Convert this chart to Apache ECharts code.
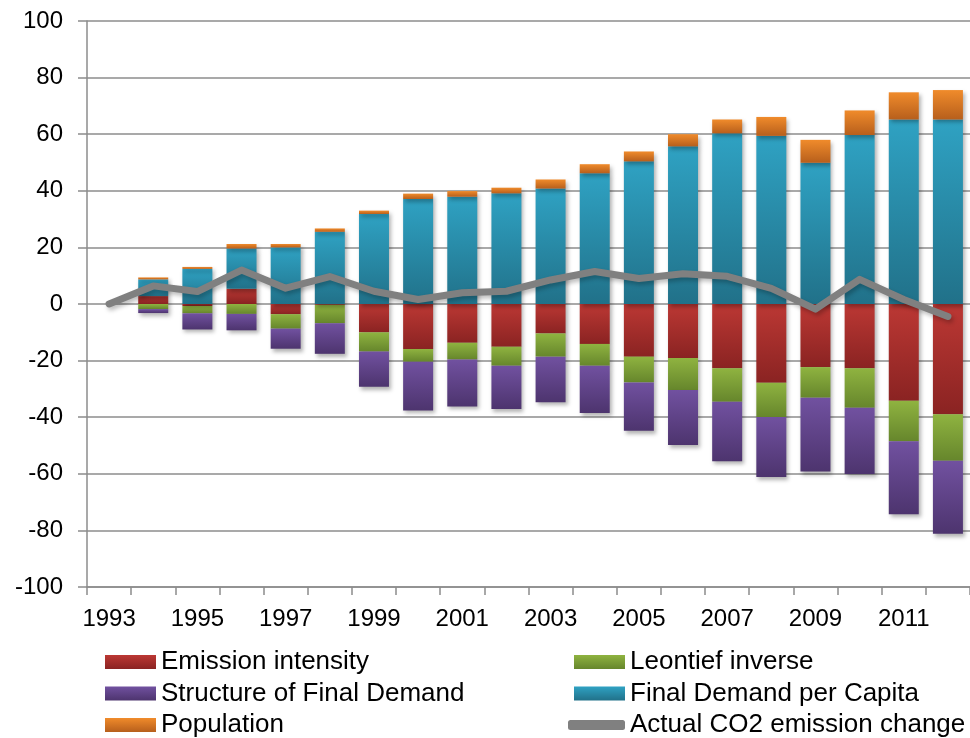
<!DOCTYPE html>
<html>
<head>
<meta charset="utf-8">
<script src="https://cdn.jsdelivr.net/npm/echarts@6/dist/echarts.min.js"></script>
<style>
html,body{margin:0;padding:0;background:#fff;}
#c{width:970px;height:738px;}
</style>
</head>
<body>
<div id="c"></div>
<script>
const years = ['1993','1994','1995','1996','1997','1998','1999','2000','2001','2002','2003','2004','2005','2006','2007','2008','2009','2010','2011','2012'];
const emissionIntensity = [null, 2.8, -0.7, 5.4, -3.6, -0.3, -10.0, -15.9, -13.7, -15.1, -10.4, -14.1, -18.6, -19.1, -22.7, -27.8, -22.3, -22.7, -34.2, -39.0];
const leontiefInverse = [null, -1.8, -2.6, -3.5, -5.1, -6.5, -6.8, -4.5, -5.9, -6.7, -8.2, -7.7, -9.1, -11.3, -11.8, -12.1, -10.8, -14.0, -14.3, -16.4];
const structureFinalDemand = [null, -1.4, -5.7, -5.8, -7.1, -10.8, -12.4, -17.2, -16.6, -15.3, -16.1, -16.7, -17.1, -19.4, -21.1, -21.2, -26.1, -23.4, -25.8, -25.8];
const finalDemandPerCapita = [null, 5.9, 12.4, 14.2, 20.0, 25.5, 31.8, 37.1, 37.9, 39.1, 40.8, 46.2, 50.4, 55.7, 60.3, 59.4, 49.9, 59.7, 65.2, 65.2];
const population = [null, 0.7, 0.7, 1.6, 1.2, 1.2, 1.2, 1.9, 2.0, 2.0, 3.2, 3.2, 3.5, 4.3, 4.9, 6.7, 8.1, 8.7, 9.6, 10.4];
const actualCO2Change = [0, 6.4, 4.4, 12.0, 5.6, 9.7, 4.5, 1.6, 4.0, 4.5, 8.5, 11.5, 9.0, 10.7, 9.8, 5.5, -1.8, 8.7, 1.6, -4.4];
const yTicks = {min: -100, max: 100, step: 20};

const FONT = "'Liberation Sans', Arial, sans-serif";
function grad(top, bottom) {
  return new echarts.graphic.LinearGradient(0, 0, 0, 1, [
    {offset: 0, color: top}, {offset: 1, color: bottom}
  ]);
}
const shadow = {shadowColor: 'rgba(0,0,0,0.30)', shadowBlur: 4, shadowOffsetX: 2, shadowOffsetY: 3};
function barSeries(name, data, top, bottom) {
  return {
    name: name, type: 'bar', stack: 'total', data: data,
    barWidth: 30,
    itemStyle: Object.assign({color: grad(top, bottom)}, shadow),
    emphasis: {disabled: true}
  };
}
const legendText = {color: '#000', fontFamily: FONT, fontSize: 26};

const chart = echarts.init(document.getElementById('c'), null, {renderer: 'canvas'});
chart.setOption({
  animation: false,
  backgroundColor: '#ffffff',
  grid: {left: 87, top: 21, width: 892, height: 566, containLabel: false},
  xAxis: {
    type: 'category', data: years, position: 'bottom',
    boundaryGap: true,
    axisLine: {onZero: false, lineStyle: {color: '#8c8c8c', width: 1.5}},
    axisTick: {show: true, interval: 0, alignWithLabel: false, length: 8, lineStyle: {color: '#8c8c8c', width: 1.5}},
    axisLabel: {interval: 1, color: '#000', fontFamily: FONT, fontSize: 24, margin: 20},
    splitLine: {show: false}
  },
  yAxis: {
    type: 'value', min: yTicks.min, max: yTicks.max, interval: yTicks.step,
    axisLine: {show: true, lineStyle: {color: '#8c8c8c', width: 1.5}},
    axisTick: {show: true, length: 9, lineStyle: {color: '#8c8c8c', width: 1.5}},
    axisLabel: {color: '#000', fontFamily: FONT, fontSize: 24, margin: 24},
    splitLine: {show: true, lineStyle: {color: '#8c8c8c', width: 1.5}}
  },
  legend: [
    {
      data: [{name: 'Emission intensity', icon: 'rect'}, {name: 'Structure of Final Demand', icon: 'rect'}, {name: 'Population', icon: 'rect'}],
      orient: 'vertical', left: 100, top: 644, height: 94, itemGap: 5.5,
      itemWidth: 51, itemHeight: 14, selectedMode: false,
      textStyle: legendText
    },
    {
      data: [{name: 'Leontief inverse', icon: 'rect'}, {name: 'Final Demand per Capita', icon: 'rect'}],
      orient: 'vertical', left: 569, top: 644, height: 94, itemGap: 5.5,
      itemWidth: 51, itemHeight: 14, selectedMode: false,
      textStyle: legendText
    },
    {
      data: [{name: 'Actual CO2 emission change', icon: 'roundRect'}],
      orient: 'vertical', left: 563, top: 707, height: 31, itemGap: 5,
      itemWidth: 57, itemHeight: 10, selectedMode: false,
      textStyle: legendText
    }
  ],
  series: [
    barSeries('Emission intensity', emissionIntensity, '#bc3834', '#8a2322'),
    barSeries('Leontief inverse', leontiefInverse, '#8fb340', '#66862c'),
    barSeries('Structure of Final Demand', structureFinalDemand, '#7151a0', '#4d346e'),
    barSeries('Final Demand per Capita', finalDemandPerCapita, '#2fa2c3', '#217189'),
    barSeries('Population', population, '#f08b2b', '#b75f1c'),
    {
      name: 'Actual CO2 emission change', type: 'line', data: actualCO2Change,
      symbol: 'none', showSymbol: false, z: 5,
      itemStyle: {color: '#808080'},
      lineStyle: {color: '#808080', width: 7, cap: 'round', join: 'round',
        shadowColor: 'rgba(0,0,0,0.25)', shadowBlur: 4, shadowOffsetX: 2, shadowOffsetY: 3},
      emphasis: {disabled: true}
    }
  ]
});
</script>
</body>
</html>
